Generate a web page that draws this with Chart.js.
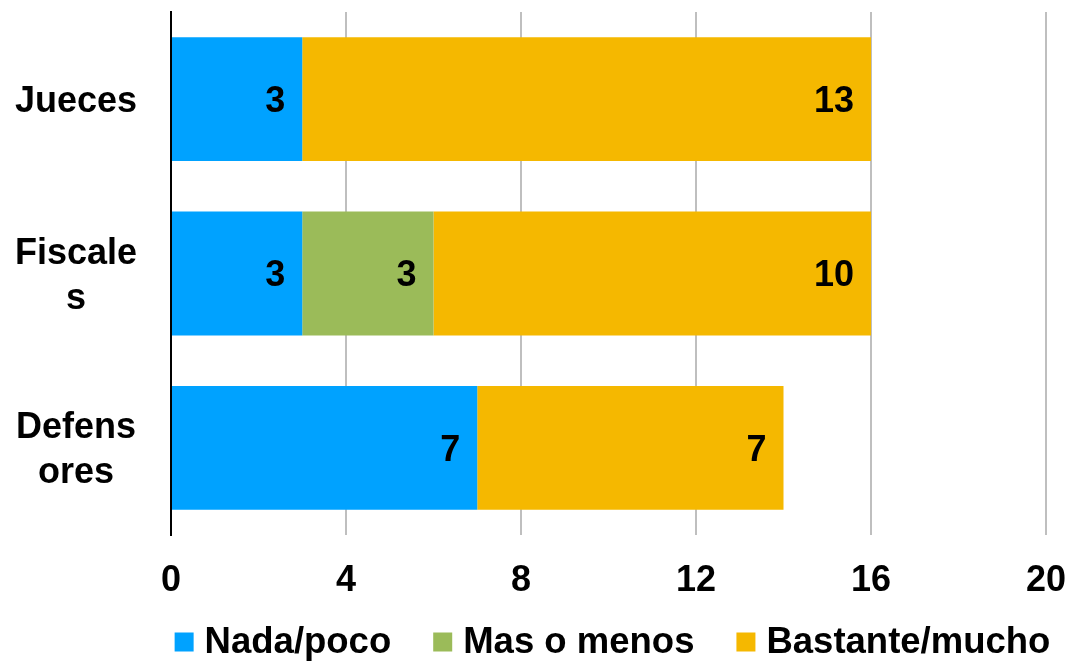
<!DOCTYPE html>
<html>
<head>
<meta charset="utf-8">
<script src="https://cdn.jsdelivr.net/npm/chart.js@4"></script>
<style>
  html, body { margin: 0; padding: 0; background: #fff; }
  #wrap { width: 1072px; height: 662px; position: relative; }
</style>
</head>
<body>
<div id="wrap"><canvas id="chart"></canvas></div>
<script>
// categories (wrapped like the original)
var categories = [["Jueces"], ["Fiscale", "s"], ["Defens", "ores"]];
var seriesNames = ["Nada/poco", "Mas o menos", "Bastante/mucho"];
var nadaPoco = [3, 3, 7];
var masOMenos = [0, 3, 0];
var bastanteMucho = [13, 10, 7];
var colors = ["#00A2FF", "#9BBB59", "#F5B800"];
var xTicks = [0, 4, 8, 12, 16, 20];

var FONT = "'Liberation Sans', Arial, sans-serif";

// value labels inside the end of each segment
var valueLabels = {
  id: "valueLabels",
  afterDatasetsDraw: function(chart) {
    var ctx = chart.ctx;
    ctx.save();
    ctx.font = "bold 36px " + FONT;
    ctx.fillStyle = "#000";
    ctx.textAlign = "right";
    ctx.textBaseline = "middle";
    chart.data.datasets.forEach(function(ds, i) {
      var meta = chart.getDatasetMeta(i);
      meta.data.forEach(function(bar, j) {
        var v = ds.data[j];
        if (!v) return;
        ctx.fillText(String(v), bar.x - 17, bar.y + 3);
      });
    });
    ctx.restore();
  }
};

// legend centred under the plot area
var bottomLegend = {
  id: "bottomLegend",
  afterDraw: function(chart) {
    var ctx = chart.ctx;
    var area = chart.chartArea;
    var box = 19, gap = 11, spacing = 42;
    ctx.save();
    ctx.font = "bold 36.5px " + FONT;
    var widths = chart.data.datasets.map(function(ds) {
      return box + gap + ctx.measureText(ds.label).width;
    });
    var total = widths.reduce(function(a, b) { return a + b; }, 0) + spacing * (widths.length - 1);
    var x = (area.left + area.right) / 2 - total / 2 + 4;
    var y = 642;
    ctx.textAlign = "left";
    ctx.textBaseline = "middle";
    chart.data.datasets.forEach(function(ds, i) {
      ctx.fillStyle = ds.backgroundColor;
      ctx.fillRect(x, y - box / 2, box, box);
      ctx.fillStyle = "#000";
      ctx.fillText(ds.label, x + box + gap, y + 1);
      x += widths[i] + spacing;
    });
    ctx.restore();
  }
};

var data = {
  labels: categories,
  datasets: [
    { label: seriesNames[0], data: nadaPoco, backgroundColor: colors[0] },
    { label: seriesNames[1], data: masOMenos, backgroundColor: colors[1] },
    { label: seriesNames[2], data: bastanteMucho, backgroundColor: colors[2] }
  ]
};

var options = {
  indexAxis: "y",
  responsive: true,
  maintainAspectRatio: false,
  animation: false,
  layout: { padding: { top: 12, right: 26, left: 0, bottom: 0 } },
  datasets: {
    bar: { barPercentage: 0.71, categoryPercentage: 1.0, borderWidth: 0 }
  },
  plugins: {
    legend: { display: false },
    tooltip: { enabled: false }
  },
  scales: {
    x: {
      stacked: true,
      min: 0,
      max: 20,
      afterBuildTicks: function(scale) {
        scale.ticks = xTicks.map(function(v) { return { value: v }; });
      },
      afterFit: function(scale) {
        scale.height = 127;
        scale.paddingLeft = 0;
        scale.paddingRight = 0;
      },
      grid: { color: "#BFBFBF", lineWidth: 2, drawTicks: false },
      border: { display: false },
      ticks: {
        padding: 24,
        color: "#000",
        font: { family: FONT, size: 36, weight: "bold" }
      }
    },
    y: {
      stacked: true,
      afterFit: function(scale) {
        scale.width = 171;
        scale.paddingTop = 0;
        scale.paddingBottom = 0;
      },
      grid: { display: false, drawTicks: false },
      border: { display: true, color: "#000", width: 2 },
      ticks: {
        padding: 34,
        crossAlign: "center",
        labelOffset: 3,
        color: "#000",
        font: { family: FONT, size: 36, weight: "bold", lineHeight: 1.25 }
      }
    }
  }
};

new Chart(document.getElementById("chart"), {
  type: "bar",
  data: data,
  options: options,
  plugins: [valueLabels, bottomLegend]
});
</script>
</body>
</html>
